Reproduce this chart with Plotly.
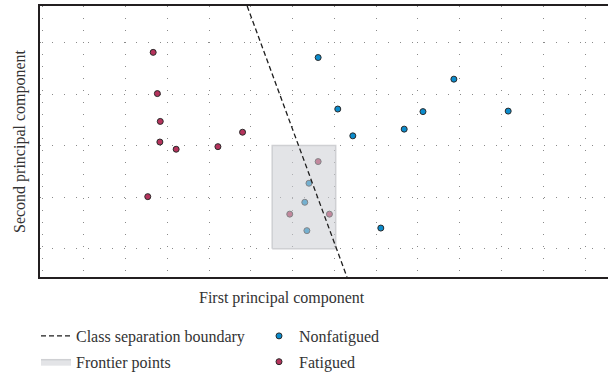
import plotly.graph_objects as go

# Principal component scores, one list per class
nonfatigued_pc1 = [6.39, 6.29, 6.34, 6.61, 7.08, 7.44, 8.67, 9.12, 9.86, 11.16, 8.11]
nonfatigued_pc2 = [1.27, 0.90, 0.35, 3.71, 2.71, 2.19, 2.32, 2.66, 3.29, 2.67, 0.40]

fatigued_pc1 = [2.66, 2.76, 2.83, 2.82, 3.21, 4.21, 4.80, 2.53, 5.93, 6.61, 6.88]
fatigued_pc2 = [3.81, 3.01, 2.47, 2.07, 1.93, 1.98, 2.26, 1.01, 0.67, 1.69, 0.67]

# Separation boundary (two end points) and frontier region corners
boundary_pc1 = [4.91, 7.30]
boundary_pc2 = [4.71, -0.55]
frontier_pc1 = [5.51, 7.03]
frontier_pc2 = [0.0, 2.0]

BLUE = "#0b8ccd"
RED = "#b5335c"
FONT = "Liberation Serif"
TEXT = "#333333"
FS = 16

# Page and plot-area geometry (pixels)
W, H = 608, 377
L, R, T, B = 40, 0, 6, 100
pw, ph = W - L - R, H - T - B


def px_x(px):
    return (px - L) / pw


def px_y(py):
    return 1 - (py - T) / ph


fig = go.Figure()

fig.add_trace(go.Scatter(
    x=nonfatigued_pc1, y=nonfatigued_pc2, mode="markers", name="Nonfatigued",
    marker=dict(size=6, color=BLUE, line=dict(color="#2a2a2a", width=1)),
    legend="legend2", legendrank=1, legendgroup="nf",
))
fig.add_trace(go.Scatter(
    x=fatigued_pc1, y=fatigued_pc2, mode="markers", name="Fatigued",
    marker=dict(size=6, color=RED, line=dict(color="#2a2a2a", width=1)),
    legend="legend2", legendrank=2, legendgroup="f",
))

x0, x1 = frontier_pc1
y0, y1 = frontier_pc2
fig.add_trace(go.Scatter(
    x=[x0, x1, x1, x0, x0], y=[y0, y0, y1, y1, y0], mode="lines",
    fill="toself", fillcolor="rgba(204,206,211,0.55)",
    line=dict(color="#cfd0d3", width=1.5), name="Frontier points",
    legend="legend", legendrank=2, legendgroup="fr", hoverinfo="skip",
))
fig.add_trace(go.Scatter(
    x=boundary_pc1, y=boundary_pc2, mode="lines", name="Class separation boundary",
    line=dict(color="#1e1e1e", width=1.3, dash="5px,3px"),
    legend="legend", legendrank=1, legendgroup="b",
))

grid = dict(showgrid=True, gridcolor="#8a8a8a", gridwidth=1, griddash="1px,11px",
            zeroline=False, showticklabels=False, ticks="",
            showline=True, linecolor="#231f20", linewidth=2.2)

fig.update_xaxes(range=[-0.05, 13.55], dtick=1, tick0=0, mirror=True, **grid)
fig.update_yaxes(range=[-0.55, 4.71], dtick=1, tick0=0, mirror=False, **grid)

legend_style = dict(yanchor="top", xanchor="left", orientation="v",
                    bgcolor="rgba(0,0,0,0)", tracegroupgap=2,
                    font=dict(family=FONT, size=FS, color=TEXT))

fig.update_layout(
    width=W, height=H,
    margin=dict(l=L, r=R, t=T, b=B, autoexpand=False),
    plot_bgcolor="white", paper_bgcolor="white",
    font=dict(family=FONT, size=FS, color=TEXT),
    legend=dict(x=px_x(36), y=px_y(319), **legend_style),
    legend2=dict(x=px_x(259), y=px_y(319), **legend_style),
    annotations=[
        dict(text="First principal component", x=px_x(282), y=px_y(298),
             xref="paper", yref="paper", xanchor="center", yanchor="middle",
             showarrow=False, font=dict(family=FONT, size=FS, color=TEXT)),
        dict(text="Second principal component", x=px_x(20), y=px_y(141),
             xref="paper", yref="paper", xanchor="center", yanchor="middle",
             textangle=-90, showarrow=False,
             font=dict(family=FONT, size=FS, color=TEXT)),
    ],
)

fig.write_html("out.html")
